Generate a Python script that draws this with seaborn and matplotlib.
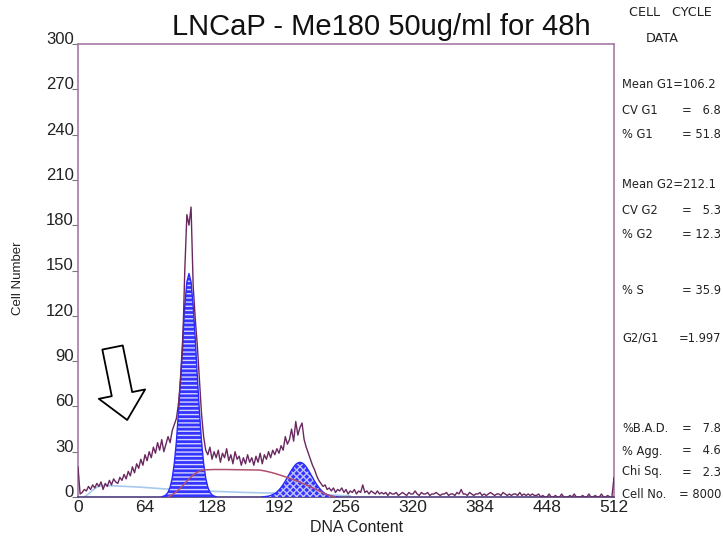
import numpy as np
import pandas as pd
import matplotlib
matplotlib.use("Agg")
import matplotlib.pyplot as plt
import seaborn as sns

# ---------------- data ----------------
raw_counts = [
    20, 2, 3, 5, 4, 7, 5, 8, 6, 9,
    7, 10, 5, 9, 7, 11, 8, 12, 10, 9,
    13, 11, 15, 12, 17, 14, 20, 16, 22, 19,
    25, 21, 28, 24, 30, 26, 33, 29, 36, 31,
    38, 30, 35, 40, 36, 44, 48, 52, 62, 78,
    100, 150, 187, 180, 192, 140, 118, 100, 78, 55,
    40, 31, 28, 33, 25, 30, 26, 31, 23, 29,
    26, 32, 24, 28, 22, 30, 25, 27, 21, 26,
    22, 28, 23, 26, 21, 27, 23, 29, 22, 28,
    25, 30, 26, 31, 28, 32, 29, 34, 31, 40,
    35, 38, 45, 37, 50, 41, 46, 49, 38, 33,
    29, 25, 21, 18, 14, 11, 9, 7, 8, 5,
    6, 4, 6, 3, 5, 4, 6, 3, 5, 2,
    4, 3, 5, 2, 4, 3, 8, 3, 4, 2,
    4, 3, 2, 4, 2, 3, 2, 3, 1, 3,
    2, 2, 3, 1, 2, 3, 2, 1, 3, 2,
    2, 4, 2, 1, 3, 2, 2, 3, 1, 2,
    2, 3, 2, 1, 2, 2, 3, 1, 2, 2,
    1, 3, 2, 5, 2, 2, 1, 3, 2, 1,
    2, 2, 3, 1, 2, 1, 2, 3, 2, 1,
    2, 2, 1, 3, 2, 1, 2, 1, 2, 2,
    1, 3, 1, 2, 1, 2, 1, 2, 1, 1,
    2, 0, 1, 0, 0, 2, 0, 0, 1, 0,
    0, 2, 0, 0, 0, 1, 0, 2, 0, 0,
    0, 1, 0, 0, 2, 0, 0, 1, 0, 0,
    2, 0, 0, 1, 0, 0, 13,
]
raw_channels = list(range(0, 2 * len(raw_counts), 2))

g1_channels = list(range(80, 134, 2))
g1_fit = [0.2, 0.6, 1.4, 3.1, 6.5, 12.5, 22.3, 36.9, 56.4, 79.8, 104.6, 126.8, 142.4,
          148.0,
          142.4, 126.8, 104.6, 79.8, 56.4, 36.9, 22.3, 12.5, 6.5, 3.1, 1.4, 0.6, 0.2]

g2_channels = list(range(176, 250, 2))
g2_fit = [0.1, 0.2, 0.4, 0.6, 1.0, 1.6, 2.3, 3.3, 4.7, 6.3, 8.3, 10.5, 13.0, 15.4, 17.8,
          19.9, 21.6, 22.6, 23.0, 22.6, 21.6, 19.9, 17.8, 15.4, 13.0, 10.5, 8.3, 6.3,
          4.7, 3.3, 2.3, 1.6, 1.0, 0.6, 0.4, 0.2, 0.1]

s_channels = [86, 90, 94, 98, 102, 106, 110, 114, 118, 122, 130, 140, 150, 160, 170,
              174, 178, 182, 186, 190, 194, 198, 202, 206, 210, 214, 218, 222, 226,
              230, 234, 238, 242, 246]
s_fit = [0, 1.5, 3.5, 6, 9, 12, 14.5, 16.5, 17.6, 18, 18.2, 18.2, 18.1, 18, 17.9,
         17.8, 17.3, 16.7, 16, 15.2, 14.3, 13.4, 12.4, 11.4, 10.4, 9.2, 8, 6.8, 5.5,
         4.2, 2.8, 1.6, 0.6, 0]

debris_channels = [6, 10, 14, 18, 22, 30, 40, 60, 80, 100, 120, 140, 160, 180, 200, 230, 260]
debris_fit = [0, 2, 4.5, 6.5, 7.5, 7.5, 7.2, 6.5, 5.5, 4.6, 4, 3.5, 3, 2.7, 2.3, 1.6, 0.8]

x_ticks = [0, 64, 128, 192, 256, 320, 384, 448, 512]
y_ticks = [0, 30, 60, 90, 120, 150, 180, 210, 240, 270, 300]

title = "LNCaP - Me180 50ug/ml for 48h"
stat_labels = ["Mean G1", "CV G1", "% G1", "Mean G2", "CV G2", "% G2", "% S", "G2/G1",
               "%B.A.D.", "% Agg.", "Chi Sq.", "Cell No."]
stat_values = ["=106.2", "=   6.8", "= 51.8", "=212.1", "=   5.3", "= 12.3", "= 35.9",
               "=1.997", "=   7.8", "=   4.6", "=   2.3", "= 8000"]
stat_ypix = [85, 110, 134, 185, 210, 235, 290, 338, 429, 451, 472, 494]

# ---------------- style ----------------
sns.set_style("white")
plt.rcParams["font.family"] = ["Liberation Sans", "DejaVu Sans"]
plt.rcParams["hatch.linewidth"] = 1.0

W, H = 723, 539
fig = plt.figure(figsize=(W / 100, H / 100), dpi=100)
ax = fig.add_axes([78 / W, 1 - 497 / H, (614 - 78) / W, (497 - 44) / H])

frame = "#a77aa7"
raw_col = "#6a2860"

sns.lineplot(x=debris_channels, y=debris_fit, ax=ax, color="#a9c8ee", lw=1.2, zorder=2)

# G1 fit, horizontally striped
ax.fill_between(g1_channels, 0, g1_fit, facecolor="#3434ff", edgecolor="#d4d4ff",
                hatch="----", lw=0, zorder=3)
sns.lineplot(x=g1_channels, y=g1_fit, ax=ax, color="#2a2aff", lw=1.0, zorder=3)

# G2 fit, cross hatched
ax.fill_between(g2_channels, 0, g2_fit, facecolor="#3232ff", edgecolor="#c0c0ff",
                hatch="xxxxx", lw=0, zorder=3)
sns.lineplot(x=g2_channels, y=g2_fit, ax=ax, color="#2a2aff", lw=1.0, zorder=3)

sns.lineplot(x=s_channels, y=s_fit, ax=ax, color="#b0506e", lw=1.1, zorder=4)

sns.lineplot(x=raw_channels, y=raw_counts, ax=ax, color=raw_col, lw=1.0, zorder=5)

ax.set_xlim(0, 512)
ax.set_ylim(0, 300)
ax.set_xticks(x_ticks)
ax.set_yticks(y_ticks)
ax.set_xticklabels([str(v) for v in x_ticks], fontsize=12.5, color="#222222")
ax.set_yticklabels([str(v) for v in y_ticks], fontsize=12, color="#222222")
for lab in ax.get_yticklabels():
    lab.set_va("baseline")
ax.tick_params(axis="y", length=4, width=0.8, color="#777777", pad=-1, left=True)
ax.tick_params(axis="x", length=0, pad=2)
ax.set_xlabel("")
ax.set_ylabel("")
for side in ["left", "top", "right"]:
    ax.spines[side].set_color(frame)
    ax.spines[side].set_linewidth(1.2)
ax.spines["bottom"].set_color("#4d3d7d")
ax.spines["bottom"].set_linewidth(1.2)

# hollow arrow annotation
ax.annotate("", xy=(47, 51), xytext=(33, 99),
            arrowprops=dict(arrowstyle="simple,head_width=3.4,head_length=1.9,tail_width=1.5",
                            fc="white", ec="black", lw=1.3, mutation_scale=10,
                            shrinkA=0, shrinkB=0), zorder=6)

# texts
fig.text(381 / W, 1 - 27 / H, title, ha="center", va="center", fontsize=21,
         color="#111111")
fig.text(357 / W, 1 - 527 / H, "DNA Content", ha="center", va="center", fontsize=11.5,
         color="#222222")
fig.text(18 / W, 1 - 278 / H, "Cell Number", ha="center", va="center", rotation=90,
         fontsize=9.5, color="#222222")

side_font = ["DejaVu Sans"]
fig.text(670 / W, 1 - 12 / H, "CELL   CYCLE", ha="center", va="center", fontsize=9.2,
         family=side_font, color="#222222")
fig.text(662 / W, 1 - 38 / H, "DATA", ha="center", va="center", fontsize=9.2,
         family=side_font, color="#222222")
for lab, val, yp in zip(stat_labels, stat_values, stat_ypix):
    if lab.startswith("Mean"):
        fig.text(622 / W, 1 - yp / H, lab + val, ha="left", va="center", fontsize=8.3,
                 family=side_font, color="#222222")
    else:
        fig.text(622 / W, 1 - yp / H, lab, ha="left", va="center", fontsize=8.3,
                 family=side_font, color="#222222")
        fig.text(721 / W, 1 - yp / H, val, ha="right", va="center", fontsize=8.3,
                 family=side_font, color="#222222")

fig.savefig("out.png", dpi=100)
